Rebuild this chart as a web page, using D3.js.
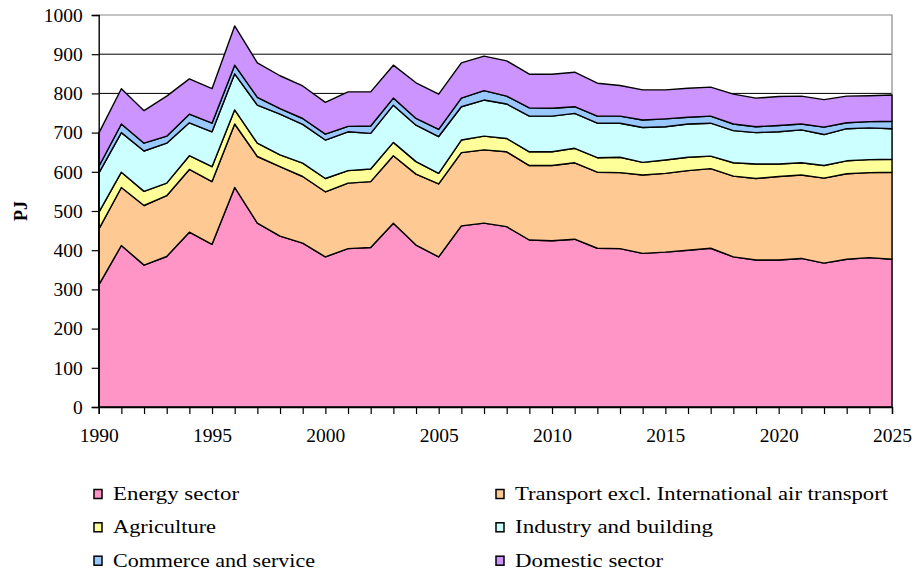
<!DOCTYPE html>
<html>
<head>
<meta charset="utf-8">
<script src="https://cdn.jsdelivr.net/npm/d3@7"></script>
<style>
  html, body { margin: 0; padding: 0; background: #fff; }
  svg { display: block; }
  text { font-family: "Liberation Serif", "Times New Roman", serif; fill: #000; }
</style>
</head>
<body>
<svg id="chart" width="916" height="571"></svg>
<script>
// Years 1990–2025
const years = d3.range(1990, 2026);

// Series values, PJ per year
const energySector = [311, 412, 362, 384, 446, 415, 560, 469, 436, 418, 383, 404, 407, 469, 413, 383, 462, 469, 460, 426, 424, 428, 405, 404, 392, 395, 400, 405, 383, 375, 375, 379, 367, 377, 381, 377];
const transport    = [142, 148, 152, 155, 160, 160, 162, 170, 177, 170, 166, 167, 168, 172, 181, 186, 187, 187, 191, 190, 192, 195, 194, 194, 200, 201, 203, 203, 206, 208, 213, 213, 217, 218, 217, 222];
const agriculture  = [ 43,  39,  36,  32,  35,  38,  36,  34,  30,  34,  34,  32,  32,  34,  32,  27,  32,  35,  34,  35,  35,  37,  37,  39,  32,  34,  34,  32,  34,  37,  32,  31,  32,  33,  33,  33];
const industry     = [100, 101, 103, 102,  84,  89,  92,  97, 104,  99,  98,  99,  91,  95,  93,  94,  85,  92,  88,  91,  91,  89,  88,  87,  89,  85,  85,  84,  82,  80,  82,  84,  79,  82,  81,  78];
const commerce     = [ 17,  22,  20,  18,  22,  22,  22,  20,  14,  15,  15,  14,  19,  18,  17,  18,  22,  24,  20,  21,  20,  17,  18,  18,  19,  20,  17,  18,  17,  15,  16,  15,  19,  15,  16,  19];
const domestic     = [ 85,  90,  83, 102,  90,  88, 100,  88,  84,  83,  81,  88,  87,  84,  91,  90,  90,  88,  90,  86,  87,  88,  84,  78,  77,  74,  74,  74,  76,  73,  74,  71,  70,  68,  66,  67];

const seriesNames = ["Energy sector", "Transport excl. International air transport", "Agriculture",
                     "Industry and building", "Commerce and service", "Domestic sector"];
const seriesColors = ["#ff94c6", "#ffc994", "#ffff99", "#ccffff", "#99c8ff", "#cc94ff"];
const seriesValues = [energySector, transport, agriculture, industry, commerce, domestic];

const yTicks = d3.range(0, 1001, 100);
const xLabelYears = d3.range(1990, 2026, 5);

// Table for the stack layout
const keys = seriesNames;
const table = years.map((yr, i) => {
  const row = { year: yr };
  keys.forEach((k, j) => { row[k] = seriesValues[j][i]; });
  return row;
});

const svg = d3.select("#chart");
const plot = { left: 98.7, right: 892, top: 15, bottom: 407 };

const x = d3.scaleLinear().domain([1990, 2025]).range([plot.left, plot.right]);
const y = d3.scaleLinear().domain([0, 1000]).range([plot.bottom, plot.top]);

// Horizontal gridlines
svg.append("g")
  .selectAll("line")
  .data(yTicks.filter(v => v > 0 && v < 1000))
  .join("line")
  .attr("x1", plot.left).attr("x2", plot.right)
  .attr("y1", d => y(d)).attr("y2", d => y(d))
  .attr("stroke", "#000").attr("stroke-width", 1);

// Plot-area frame (top and right)
svg.append("path")
  .attr("d", `M${plot.left},${y(1000)}H${plot.right}V${plot.bottom}`)
  .attr("fill", "none").attr("stroke", "#888").attr("stroke-width", 1.2);

// Stacked areas
const stack = d3.stack().keys(keys);
const layers = stack(table);

const area = d3.area()
  .x(d => x(d.data.year))
  .y0(d => y(d[0]))
  .y1(d => y(d[1]));

svg.append("g")
  .selectAll("path")
  .data(layers)
  .join("path")
  .attr("d", area)
  .attr("fill", (d, i) => seriesColors[i])
  .attr("stroke", "#000")
  .attr("stroke-width", 1.4)
  .attr("stroke-linejoin", "round");

// Y axis
const yAxis = d3.axisLeft(y).tickValues(yTicks).tickSize(7).tickPadding(9).tickFormat(d3.format("d"));
const gy = svg.append("g").attr("transform", `translate(${plot.left},0)`).call(yAxis);
gy.select(".domain").attr("stroke", "#000").attr("stroke-width", 1.4);
gy.selectAll(".tick line").attr("stroke", "#000").attr("stroke-width", 1.2);
gy.selectAll(".tick text").attr("font-size", 19.5).attr("font-family", "Liberation Serif");

// X axis: a tick each year, labels every five years
const xAxis = d3.axisBottom(x).tickValues(years).tickSize(7).tickPadding(14)
  .tickFormat(d => xLabelYears.includes(d) ? String(d) : "");
const gx = svg.append("g").attr("transform", `translate(0,${plot.bottom})`).call(xAxis);
gx.select(".domain").attr("stroke", "#000").attr("stroke-width", 1.4);
gx.selectAll(".tick line").attr("stroke", "#000").attr("stroke-width", 1.2);
gx.selectAll(".tick text").attr("font-size", 19.5).attr("font-family", "Liberation Serif");

// Y axis title
svg.append("text")
  .attr("transform", `translate(27,211) rotate(-90)`)
  .attr("text-anchor", "middle")
  .attr("font-size", 18)
  .attr("font-weight", "bold")
  .text("PJ");

// Legend: two columns, three rows
const legendCols = [94, 496];
const legendRows = [500, 533.3, 566.7];
const legendWidths = [126, 373, 103, 198, 202, 148];
const legend = svg.append("g");
seriesNames.forEach((name, i) => {
  const col = i % 2, row = Math.floor(i / 2);
  const lx = legendCols[col], ly = legendRows[row];
  legend.append("rect")
    .attr("x", lx).attr("y", ly - 10.5)
    .attr("width", 8).attr("height", 9)
    .attr("fill", seriesColors[i])
    .attr("stroke", "#000").attr("stroke-width", 1.5);
  legend.append("text")
    .attr("x", lx + 19).attr("y", ly)
    .attr("font-size", 18.5)
    .attr("textLength", legendWidths[i])
    .attr("lengthAdjust", "spacingAndGlyphs")
    .text(name);
});
</script>
</body>
</html>
